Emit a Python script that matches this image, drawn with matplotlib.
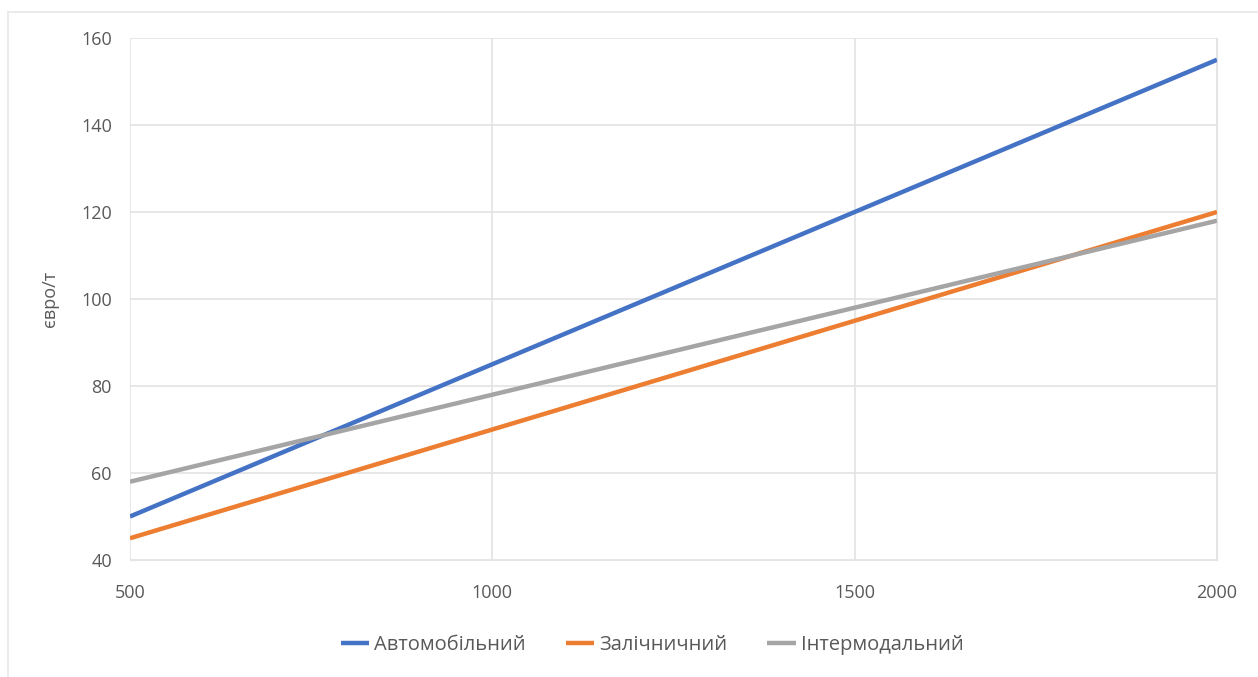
import matplotlib.pyplot as plt
from matplotlib.lines import Line2D

# відстань перевезення, км
distance = [500, 1000, 1500, 2000]

# вартість перевезення, євро/т
auto_cost = [50, 85, 120, 155]
rail_cost = [45, 70, 95, 120]
intermodal_cost = [58, 78, 98, 118]

series_names = ["Автомобільний", "Залічничний", "Інтермодальний"]
series_colors = ["#4472C4", "#ED7D31", "#A5A5A5"]

plt.rcParams['font.family'] = ['Open Sans', 'DejaVu Sans']

fig = plt.figure(figsize=(12.58, 6.77), dpi=100)
ax = fig.add_axes([130 / 1258, 1 - 560 / 677, (1217 - 130) / 1258, (560 - 38) / 677])

for values, name, color in zip([auto_cost, rail_cost, intermodal_cost], series_names, series_colors):
    ax.plot(distance, values, color=color, linewidth=3.2, label=name, solid_capstyle='butt')

ax.set_xlim(500, 2000)
ax.set_ylim(40, 160)
ax.set_xticks(distance)
ax.set_yticks(range(40, 161, 20))
ax.grid(True, color="#E3E3E3", linewidth=1.2)
ax.set_axisbelow(True)
for side in ["top", "left"]:
    ax.spines[side].set_visible(False)
for side in ["right", "bottom"]:
    ax.spines[side].set_color("#E3E3E3")
ax.tick_params(length=0, labelsize=13, labelcolor="#595959")
ax.tick_params(axis='x', pad=17)
ax.tick_params(axis='y', pad=13)
ax.set_ylabel("євро/т", fontsize=13, color="#595959", labelpad=16)

# рамка області діаграми
fig.add_artist(Line2D([8 / 1258, 1], [1 - 12 / 677, 1 - 12 / 677], color="#E8E8E8", linewidth=1.2))
fig.add_artist(Line2D([8 / 1258, 8 / 1258], [0, 1 - 12 / 677], color="#E8E8E8", linewidth=1.2))

fig.legend(loc='center', bbox_to_anchor=(652 / 1258, 1 - 645 / 677), ncol=3, frameon=False,
           fontsize=14.5, labelcolor="#595959", handlelength=1.4, handletextpad=0.25, columnspacing=2.0)

fig.savefig("out.png", dpi=100)
